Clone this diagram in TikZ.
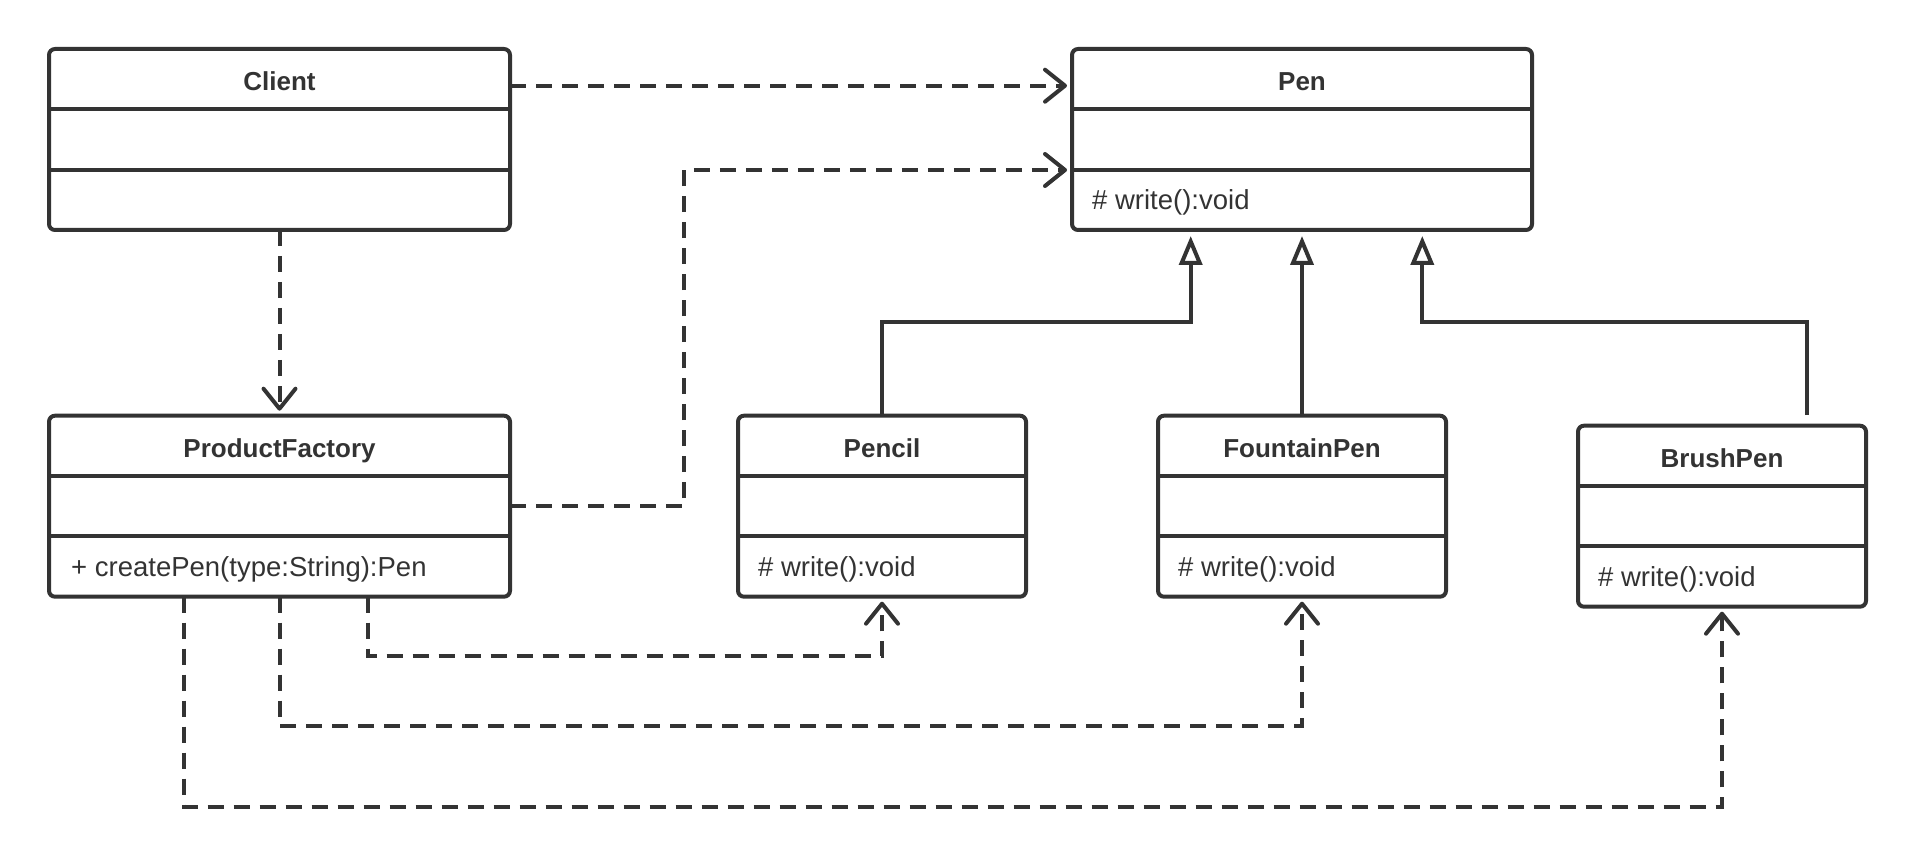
\documentclass[tikz,border=0pt]{standalone}
\usepackage{fontspec}
\setmainfont{Liberation Sans}
\usetikzlibrary{arrows.meta}
\definecolor{ink}{HTML}{333333}
\begin{document}
\begin{tikzpicture}[x=1pt,y=-1pt,
 umlbox/.style={draw=ink, line width=4pt, rounded corners=6pt, minimum height=181pt, inner sep=0pt, outer sep=0pt, anchor=north west},
 divider/.style={draw=ink, line width=4pt},
 titletext/.style={text=ink, font=\fontsize{26}{30}\selectfont\bfseries, inner sep=0pt, anchor=base},
 methodtext/.style={text=ink, font=\fontsize{27.5}{32}\selectfont, inner sep=0pt, anchor=base west},
 dep/.style={draw=ink, line width=4pt, dash pattern=on 16pt off 10pt, -{Straight Barb[length=20pt,width=32pt,round]}, shorten >=5pt},
 gen/.style={draw=ink, line width=4pt, -{Triangle[open,length=29pt,width=23pt,fill=white]}, shorten >=6pt}]
\useasboundingbox (0,0) rectangle (1916,858);

% class boxes: name, x, y, width, title
\newcommand\umlclassbox[5]{%
  \node[umlbox, minimum width=#4pt] (#1) at (#2,#3) {};
  \draw[divider] (#2,#3+60.3) -- (#2+#4,#3+60.3);
  \draw[divider] (#2,#3+120.7) -- (#2+#4,#3+120.7);
  \node[titletext] (#1-t) at (#2+#4/2,#3+42) {#5};
}
\umlclassbox{client}{49}{49}{461}{Client}
\umlclassbox{pen}{1072}{49}{460}{Pen}
\umlclassbox{pf}{49}{415.7}{461}{ProductFactory}
\umlclassbox{pencil}{738}{415.7}{288}{Pencil}
\umlclassbox{fpen}{1158}{415.7}{288}{FountainPen}
\umlclassbox{bpen}{1578}{425.7}{288}{BrushPen}

\node[methodtext] (pen-m) at (1092,49+161) {\# write():void};
\node[methodtext] (pf-m) at (71,415.7+161) {+ createPen(type:String):Pen};
\node[methodtext] (pencil-m) at (758,415.7+161) {\# write():void};
\node[methodtext] (fpen-m) at (1178,415.7+161) {\# write():void};
\node[methodtext] (bpen-m) at (1598,425.7+161) {\# write():void};

% dependencies
\draw[dep] (client.east |- 0,85.7) -- (pen.west |- 0,85.7);
\draw[dep] (client.south) -- (pf.north);
\draw[dep] (pf.east) -- (pf.east -| 684,0) -- (684,170) -- (pen.west |- 0,170);
\draw[dep] (pf.south -| 368,0) -- (368,656) -- (pencil.south |- 0,656) -- (pencil.south);
\draw[dep] (pf.south) -- (pf.south |- 0,726) -- (fpen.south |- 0,726) -- (fpen.south);
\draw[dep] (pf.south -| 184,0) -- (184,807) -- (bpen.south |- 0,807) -- (bpen.south);

% generalizations
\draw[gen] (pencil.north) -- (pencil.north |- 0,321.7) -- (1190.7,321.7) -- (pen.south -| 1190.7,0);
\draw[gen] (fpen.north) -- (pen.south);
\coordinate (bpstub) at (1807,415);
\draw[gen] (bpstub) -- (1807,321.7) -- (1422.3,321.7) -- (pen.south -| 1422.3,0);
\end{tikzpicture}
\end{document}
